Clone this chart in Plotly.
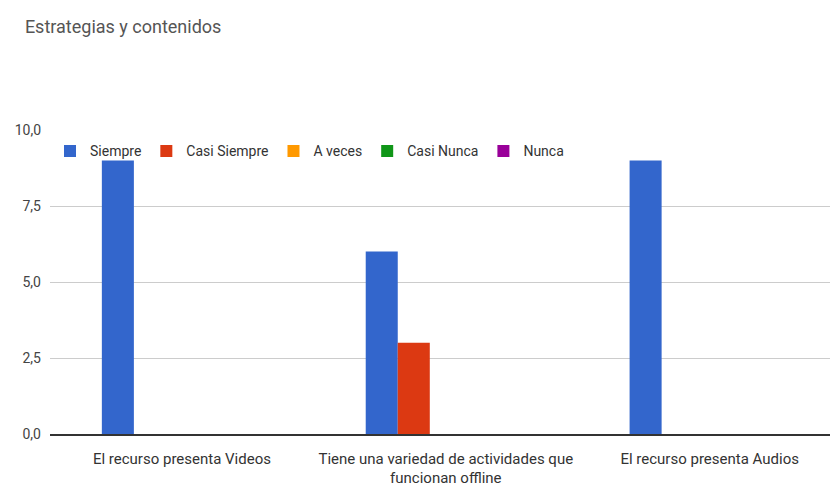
import plotly.graph_objects as go

# Survey results: counts per answer for each statement
categories = [
    "El recurso presenta Videos",
    "Tiene una variedad de actividades que<br>funcionan offline",
    "El recurso presenta Audios",
]
series_names = ["Siempre", "Casi Siempre", "A veces", "Casi Nunca", "Nunca"]
siempre = [9, 6, 9]
casi_siempre = [0, 3, 0]
a_veces = [0, 0, 0]
casi_nunca = [0, 0, 0]
nunca = [0, 0, 0]
series_values = [siempre, casi_siempre, a_veces, casi_nunca, nunca]
colors = ["#3366cc", "#dc3912", "#ff9900", "#109618", "#990099"]
y_ticks = [0, 2.5, 5, 7.5, 10]

fig = go.Figure()
for name, vals, col in zip(series_names, series_values, colors):
    fig.add_trace(go.Bar(x=categories, y=vals, name=name, marker_color=col,
                         marker_line_width=0))

fig.update_layout(
    width=830, height=491,
    margin=dict(l=50, r=0, t=130, b=57),
    paper_bgcolor="white", plot_bgcolor="white",
    font=dict(family="Roboto, Arial, sans-serif", size=14, color="#444"),
    separators=",.",
    title=dict(text="Estrategias y contenidos", x=0.03, xanchor="left",
               y=0.945, yanchor="middle",
               font=dict(size=18, color="#555")),
    barmode="group", bargap=0.393, bargroupgap=0,
    legend=dict(orientation="h", x=0, xanchor="left", y=0.93, yanchor="middle",
                bgcolor="rgba(0,0,0,0)", font=dict(size=14, color="#333"),
                itemwidth=30),
    showlegend=True,
)
fig.update_xaxes(range=[-0.5, 2.456], showgrid=False, showline=True,
                 linecolor="#333", linewidth=1.5, ticks="",
                 ticklabelstandoff=10,
                 tickfont=dict(size=15, color="#333"))
fig.update_yaxes(range=[0, 10], tickvals=y_ticks, tickformat=".1f",
                 showgrid=True, gridcolor="#cccccc", zeroline=False,
                 ticks="", tickfont=dict(size=14, color="#444"), ticklabelstandoff=8)

fig.write_html("out.html")
